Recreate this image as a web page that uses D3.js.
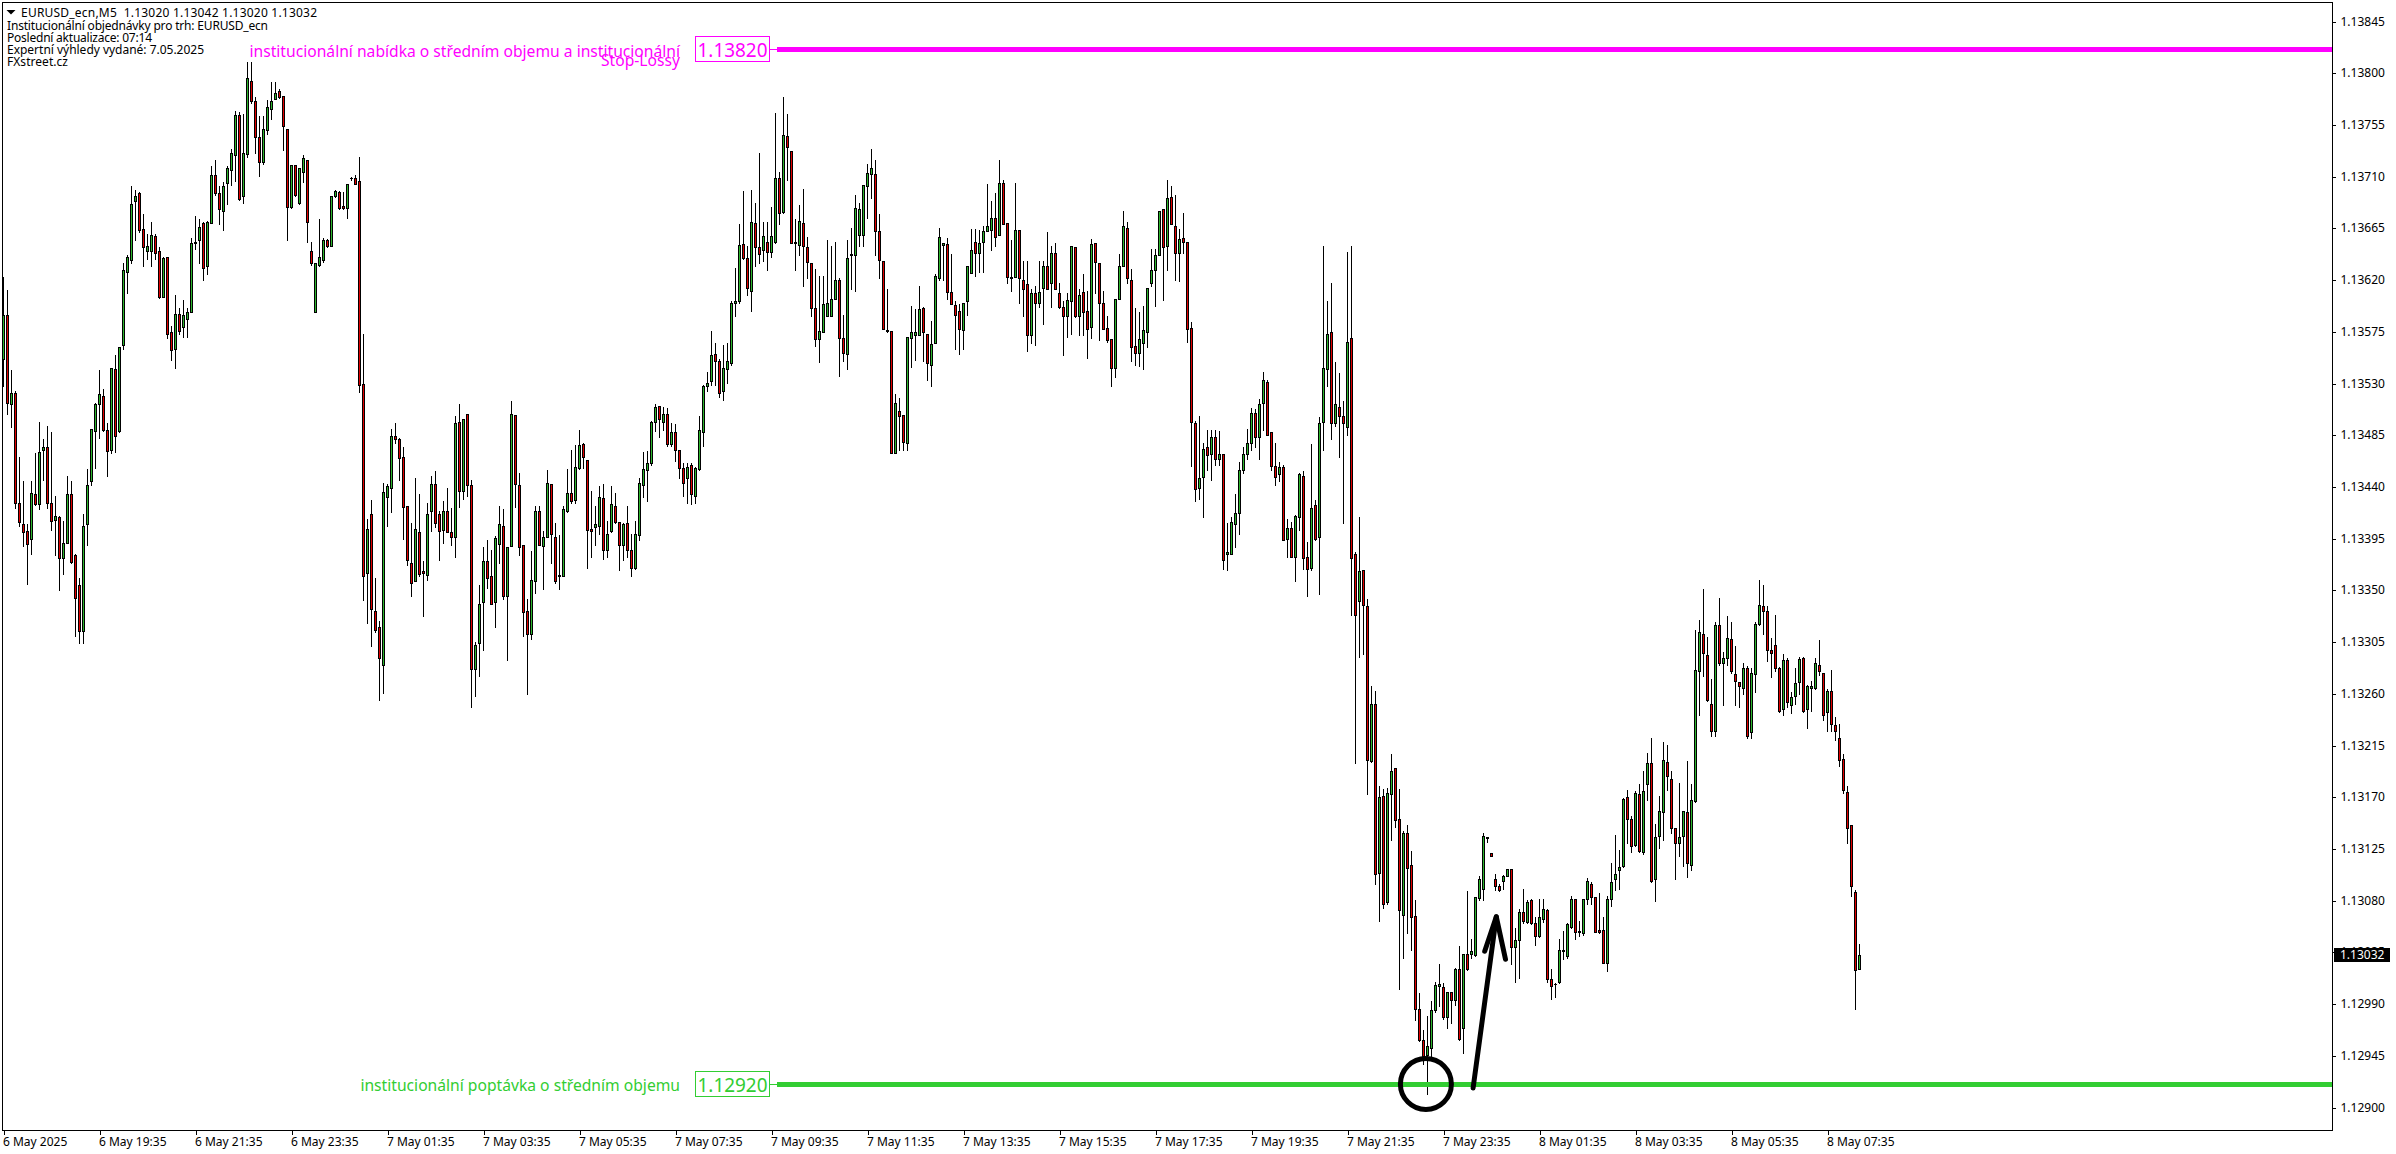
<!DOCTYPE html>
<html><head><meta charset="utf-8">
<script src="https://cdn.jsdelivr.net/npm/d3@7/dist/d3.min.js"></script>
<style>html,body{margin:0;padding:0;background:#fff;overflow:hidden}svg{display:block}text{font-family:"Noto Sans",sans-serif}</style>
</head><body><svg id="c" width="2396" height="1154"></svg>
<script>
// Prices in points above 1.12000
const BASE = 1.12, POINT = 0.00001;
const opens = [
1551,1589,1512,1521,1426,1407,1401,1394,1433,1425,
1472,1474,1426,1411,1413,1378,1391,1433,1380,1354,
1314,1407,1445,1488,1512,1519,1489,1472,1542,1488,
1563,1627,1637,1688,1695,1664,1645,1645,1658,1645,
1605,1640,1574,1560,1590,1579,1586,1592,1652,1654,
1669,1632,1669,1711,1695,1680,1704,1715,1728,1763,
1693,1729,1793,1775,1744,1722,1750,1768,1777,1784,
1780,1751,1683,1720,1687,1714,1724,1645,1592,1633,
1637,1654,1649,1693,1696,1684,1682,1708,1708,1706,
1529,1365,1416,1332,1318,1285,1431,1439,1484,1481,
1466,1423,1373,1358,1400,1366,1363,1419,1442,1416,
1402,1419,1400,1396,1496,1436,1503,1441,1281,1304,
1339,1375,1362,1339,1390,1406,1345,1388,1502,1441,
1389,1332,1312,1358,1419,1388,1396,1442,1396,1363,
1362,1419,1434,1428,1456,1477,1463,1403,1405,1406,
1430,1385,1401,1423,1409,1389,1408,1385,1369,1398,
1441,1454,1460,1496,1510,1496,1503,1477,1487,1472,
1456,1447,1459,1432,1455,1487,1527,1532,1555,1549,
1523,1542,1547,1600,1601,1651,1639,1610,1669,1648,
1646,1653,1644,1653,1708,1679,1745,1732,1653,1650,
1669,1648,1634,1595,1568,1574,1588,1588,1603,1620,
1569,1555,1641,1641,1659,1659,1701,1712,1712,1662,
1636,1576,1575,1469,1506,1502,1478,1569,1572,1572,
1595,1573,1546,1565,1621,1650,1651,1609,1598,1593,
1576,1601,1626,1653,1643,1653,1662,1663,1674,1659,
1704,1669,1622,1622,1663,1620,1616,1572,1608,1600,
1613,1632,1617,1643,1608,1596,1588,1601,1648,1588,
1609,1593,1579,1652,1634,1600,1578,1568,1543,1603,
1632,1665,1620,1562,1556,1565,1574,1617,1628,1641,
1681,1649,1692,1667,1643,1656,1653,1578,1495,1439,
1448,1474,1468,1483,1464,1468,1381,1381,1407,1417,
1454,1468,1478,1504,1483,1513,1531,1487,1458,1451,
1457,1394,1404,1379,1413,1449,1379,1369,1424,1396,
1496,1542,1574,1495,1509,1501,1492,1569,1381,1340,
1367,1336,1201,1251,1104,1171,1078,1172,1195,1151,
1067,1138,1111,1066,985,958,945,951,984,1005,
1004,978,1000,993,1020,969,1033,1033,1032,1082,
1090,1135,1121,1098,1092,1097,1101,1107,1039,1045,
1070,1061,1080,1060,1049,1064,1071,1011,1007,1009,
1036,1031,1057,1081,1052,1051,1081,1094,1083,1054,
1054,1025,1081,1098,1106,1110,1170,1151,1128,1172,
1122,1181,1199,1098,1136,1157,1200,1185,1143,1130,
1136,1157,1111,1166,1279,1312,1293,1251,1227,1319,
1286,1291,1307,1277,1270,1265,1282,1226,1277,1320,
1336,1332,1298,1302,1282,1246,1289,1250,1258,1270,
1291,1246,1265,1265,1285,1278,1244,1262,1232,1221,
1203,1174,1145,1087,1020];
const highs = [
1622,1611,1541,1523,1466,1445,1407,1445,1469,1496,
1481,1493,1487,1432,1414,1410,1449,1445,1381,1360,
1416,1455,1490,1513,1541,1525,1495,1543,1554,1561,
1634,1641,1701,1698,1696,1677,1660,1670,1660,1648,
1640,1640,1580,1607,1595,1602,1595,1656,1675,1673,
1670,1671,1719,1724,1701,1705,1719,1734,1767,1766,
1764,1809,1809,1779,1762,1762,1776,1792,1792,1786,
1780,1751,1720,1720,1717,1728,1724,1653,1634,1673,
1656,1655,1693,1698,1697,1696,1703,1709,1711,1727,
1573,1412,1428,1360,1323,1443,1442,1490,1495,1482,
1474,1423,1408,1447,1433,1375,1426,1449,1453,1419,
1427,1439,1421,1501,1512,1499,1503,1446,1305,1354,
1387,1393,1385,1397,1423,1420,1387,1514,1502,1452,
1389,1342,1384,1423,1423,1401,1454,1442,1408,1398,
1423,1455,1472,1476,1489,1478,1463,1436,1423,1440,
1442,1410,1440,1434,1409,1408,1423,1399,1410,1447,
1470,1471,1497,1512,1510,1509,1508,1495,1494,1472,
1460,1460,1460,1457,1501,1528,1540,1575,1565,1551,
1563,1565,1601,1630,1668,1697,1649,1698,1687,1730,
1670,1670,1683,1765,1714,1779,1764,1732,1673,1685,
1699,1657,1634,1629,1623,1623,1654,1649,1653,1621,
1589,1654,1665,1694,1687,1702,1721,1734,1724,1677,
1636,1612,1575,1520,1517,1502,1570,1597,1594,1614,
1596,1573,1584,1625,1665,1652,1656,1642,1601,1599,
1600,1632,1664,1664,1663,1667,1703,1688,1695,1724,
1707,1669,1654,1704,1663,1636,1636,1612,1614,1636,
1636,1661,1649,1652,1617,1601,1608,1649,1648,1612,
1625,1610,1655,1652,1634,1610,1588,1568,1603,1642,
1680,1670,1629,1595,1592,1597,1613,1647,1647,1680,
1681,1707,1701,1694,1664,1678,1653,1583,1497,1501,
1478,1489,1489,1489,1488,1468,1408,1413,1433,1461,
1474,1490,1508,1507,1516,1540,1533,1487,1478,1461,
1459,1412,1409,1415,1452,1453,1392,1477,1428,1500,
1649,1601,1617,1548,1539,1514,1644,1649,1383,1413,
1367,1342,1266,1262,1179,1177,1178,1207,1195,1177,
1140,1145,1123,1080,999,967,979,992,1009,1024,
1008,1000,1000,1021,1040,1033,1088,1046,1083,1101,
1138,1135,1121,1103,1094,1102,1107,1107,1056,1072,
1090,1080,1081,1065,1081,1081,1072,1020,1008,1046,
1053,1060,1084,1081,1062,1081,1099,1096,1083,1086,
1065,1084,1112,1137,1124,1169,1176,1153,1175,1181,
1192,1208,1221,1146,1171,1218,1215,1192,1143,1182,
1158,1201,1181,1315,1324,1351,1309,1272,1322,1343,
1296,1327,1322,1301,1270,1286,1284,1282,1322,1359,
1354,1336,1308,1328,1283,1294,1291,1261,1282,1292,
1292,1267,1271,1291,1306,1278,1264,1280,1239,1233,
1207,1179,1145,1089,1042];
const lows = [
1527,1503,1492,1421,1406,1388,1355,1381,1424,1420,
1446,1421,1402,1380,1350,1364,1391,1373,1310,1304,
1304,1389,1441,1456,1482,1488,1449,1469,1470,1487,
1560,1608,1634,1654,1661,1632,1638,1632,1638,1604,
1605,1569,1550,1543,1573,1570,1570,1592,1647,1634,
1620,1625,1669,1694,1668,1663,1686,1702,1706,1689,
1687,1727,1774,1730,1710,1721,1747,1760,1777,1778,
1733,1654,1682,1693,1686,1705,1653,1633,1592,1632,
1635,1648,1649,1692,1681,1681,1674,1707,1703,1522,
1341,1321,1301,1313,1254,1260,1406,1418,1478,1446,
1394,1372,1345,1358,1362,1327,1359,1401,1405,1376,
1391,1400,1389,1379,1422,1429,1432,1248,1258,1275,
1298,1352,1338,1318,1373,1342,1289,1388,1422,1380,
1310,1259,1307,1347,1389,1351,1396,1373,1356,1351,
1362,1418,1426,1426,1455,1456,1369,1379,1389,1399,
1377,1379,1400,1408,1367,1376,1379,1362,1368,1393,
1431,1427,1459,1488,1483,1489,1475,1475,1462,1447,
1432,1426,1425,1426,1454,1475,1523,1528,1528,1518,
1515,1530,1546,1588,1600,1638,1607,1593,1632,1634,
1636,1628,1640,1652,1668,1678,1707,1652,1628,1641,
1614,1621,1588,1562,1548,1574,1588,1588,1603,1536,
1549,1542,1612,1610,1649,1649,1674,1691,1641,1621,
1577,1574,1469,1469,1472,1472,1472,1544,1550,1572,
1549,1533,1527,1565,1620,1620,1603,1599,1560,1555,
1560,1589,1626,1623,1627,1627,1662,1646,1649,1659,
1668,1617,1610,1622,1600,1588,1558,1565,1563,1596,
1581,1612,1596,1612,1595,1554,1570,1573,1587,1572,
1572,1552,1569,1608,1567,1577,1566,1527,1535,1603,
1632,1617,1549,1546,1545,1542,1561,1614,1597,1641,
1602,1628,1668,1620,1619,1643,1566,1458,1427,1429,
1413,1454,1446,1459,1459,1368,1367,1381,1387,1399,
1452,1464,1472,1474,1464,1489,1485,1454,1441,1445,
1393,1379,1379,1358,1402,1368,1345,1367,1393,1346,
1472,1527,1481,1493,1466,1408,1485,1328,1199,1292,
1294,1172,1200,1094,1062,1073,1077,1132,1144,1003,
1030,1051,1037,976,957,937,911,943,983,988,
977,969,973,989,958,947,1019,1030,1031,1080,
1080,1131,1118,1089,1088,1090,1101,1024,1009,1012,
1060,1060,1059,1041,1048,1061,1009,994,996,1008,
1029,1030,1056,1046,1049,1050,1077,1077,1052,1051,
1025,1018,1075,1089,1090,1109,1130,1122,1127,1122,
1120,1167,1096,1079,1125,1132,1176,1138,1098,1118,
1110,1100,1106,1165,1241,1275,1253,1223,1223,1285,
1250,1285,1278,1250,1248,1259,1221,1221,1261,1319,
1312,1288,1274,1279,1244,1241,1248,1243,1251,1259,
1244,1230,1245,1264,1276,1237,1227,1227,1219,1197,
1173,1130,1084,985,1020];
const closes = [
1589,1513,1521,1426,1409,1400,1390,1434,1425,1470,
1474,1426,1410,1414,1378,1391,1433,1374,1343,1314,
1406,1441,1490,1512,1520,1489,1471,1543,1484,1561,
1628,1640,1686,1693,1663,1648,1649,1659,1643,1605,
1639,1573,1559,1590,1575,1589,1592,1652,1653,1666,
1630,1670,1711,1695,1681,1701,1717,1730,1763,1690,
1730,1795,1775,1744,1722,1751,1770,1775,1782,1779,
1754,1683,1720,1694,1717,1726,1670,1634,1634,1640,
1654,1649,1693,1697,1682,1682,1703,1708,1703,1528,
1362,1403,1333,1315,1291,1435,1440,1484,1481,1465,
1422,1376,1356,1403,1364,1365,1416,1442,1408,1401,
1419,1400,1396,1495,1436,1499,1441,1281,1302,1338,
1375,1360,1338,1395,1407,1345,1387,1503,1442,1387,
1331,1312,1359,1419,1389,1396,1443,1399,1358,1362,
1420,1434,1427,1457,1476,1466,1402,1401,1407,1431,
1385,1399,1425,1409,1389,1407,1385,1369,1399,1443,
1455,1460,1496,1509,1499,1503,1477,1487,1472,1456,
1443,1457,1433,1456,1489,1527,1530,1554,1549,1521,
1543,1549,1600,1601,1650,1639,1613,1670,1648,1642,
1658,1644,1658,1708,1678,1746,1735,1652,1652,1671,
1649,1635,1595,1568,1575,1599,1600,1603,1620,1569,
1556,1639,1642,1682,1681,1702,1713,1717,1662,1637,
1577,1575,1469,1513,1501,1479,1570,1574,1574,1594,
1574,1547,1564,1623,1657,1652,1609,1599,1589,1577,
1600,1632,1646,1643,1652,1662,1667,1674,1657,1704,
1668,1622,1621,1663,1621,1612,1572,1608,1600,1609,
1632,1612,1643,1612,1596,1588,1602,1649,1588,1607,
1592,1577,1651,1635,1600,1577,1567,1543,1603,1632,
1667,1621,1561,1556,1568,1576,1613,1628,1641,1680,
1648,1691,1668,1643,1655,1653,1577,1496,1438,1447,
1473,1467,1483,1464,1468,1376,1383,1409,1417,1454,
1468,1478,1504,1483,1512,1533,1485,1458,1448,1457,
1393,1404,1379,1414,1451,1378,1368,1421,1394,1495,
1543,1573,1495,1512,1501,1495,1566,1378,1328,1366,
1337,1202,1251,1103,1170,1077,1173,1192,1150,1071,
1138,1108,1065,985,958,944,953,984,1006,1007,
978,1000,993,1020,959,1033,1020,1036,1083,1098,
1136,1134,1118,1092,1089,1101,1107,1039,1045,1070,
1062,1078,1060,1049,1065,1072,1011,1005,1007,1037,
1037,1059,1081,1052,1053,1081,1097,1083,1052,1052,
1025,1081,1096,1103,1109,1168,1151,1127,1173,1123,
1175,1199,1097,1135,1158,1202,1188,1143,1130,1135,
1158,1112,1167,1280,1313,1295,1254,1227,1319,1286,
1291,1308,1279,1271,1266,1282,1223,1278,1320,1337,
1332,1298,1295,1282,1245,1289,1252,1257,1269,1290,
1245,1266,1266,1286,1279,1241,1262,1233,1227,1202,
1176,1143,1092,1019,1032];

const priceTicks = [1.13845,1.138,1.13755,1.1371,1.13665,1.1362,1.13575,1.1353,1.13485,1.1344,1.13395,1.1335,1.13305,1.1326,1.13215,1.1317,1.13125,1.1308,1.13035,1.1299,1.12945,1.129];
const timeTickBars = [0,24,48,72,96,120,144,168,192,216,240,264,288,312,336,360,384,408,432,456];
const timeLabels = ["6 May 2025","6 May 19:35","6 May 21:35","6 May 23:35","7 May 01:35","7 May 03:35","7 May 05:35","7 May 07:35","7 May 09:35","7 May 11:35","7 May 13:35","7 May 15:35","7 May 17:35","7 May 19:35","7 May 21:35","7 May 23:35","8 May 01:35","8 May 03:35","8 May 05:35","8 May 07:35"];
const headerLines = ["Institucionální objednávky pro trh: EURUSD_ecn","Poslední aktualizace: 07:14","Expertní výhledy vydané: 7.05.2025","FXstreet.cz"];
const headerWidths = [261,145,197,61];
const symbolLine = "EURUSD_ecn,M5  1.13020 1.13042 1.13020 1.13032";
const lastPrice = 1.13032;
const supply = {price:1.1382, color:"#ff00ff", lines:["institucionální nabídka o středním objemu a institucionální","Stop-Lossy"]};
const demand = {price:1.1292, color:"#32cd32", lines:["institucionální poptávka o středním objemu"]};
// annotation, in bar index / points
const circleAt = {bar:355.6, pts:920};
const arrowPts = [[367.4,917],[373.2,1066]];
const arrowHead = [[370.3,1036],[373.2,1066],[375.5,1029]];

const svg = d3.select("#c").attr("shape-rendering","crispEdges");
const x = d3.scaleLinear().domain([0,464]).range([3.5,1859.5]);
const y = d3.scaleLinear().domain([1.129,1.13845]).range([1107.5,21.5]);
const yP = p => y(BASE + p*POINT);
const PLOT = {l:2.5,t:2.5,r:2332.5,b:1130.5};
const UP="#2cb52c", DOWN="#e00000", INK="#000";

const bars = opens.map((o,i)=>({i,o,h:highs[i],l:lows[i],c:closes[i]}));
const g = svg.append("g");
const snap = v => Math.floor(v)+0.5;
g.selectAll("line.wick").data(bars).join("line").attr("class","wick")
 .attr("x1",d=>x(d.i)).attr("x2",d=>x(d.i))
 .attr("y1",d=>snap(yP(d.h))-0.5).attr("y2",d=>snap(yP(d.l))+0.5)
 .attr("stroke",INK).attr("stroke-width",1);
const bt=d=>Math.floor(yP(Math.max(d.o,d.c))), bb=d=>Math.floor(yP(Math.min(d.o,d.c)));
g.selectAll("rect.body").data(bars).join("rect").attr("class","body")
 .attr("x",d=>x(d.i)-1.5).attr("width",3)
 .attr("y",bt).attr("height",d=>Math.max(bb(d)-bt(d)+1,1)).attr("fill",INK);
g.selectAll("rect.fill").data(bars.filter(d=>bb(d)-bt(d)>=2)).join("rect").attr("class","fill")
 .attr("x",d=>x(d.i)-0.5).attr("width",1)
 .attr("y",d=>bt(d)+1).attr("height",d=>bb(d)-bt(d)-1)
 .attr("fill",d=>d.c>=d.o?UP:DOWN);

// level lines with boxed prices
const BOX={x:695.5,w:74,h:25};
[supply,demand].forEach(L=>{
  const yy=y(L.price), ly=Math.round(yy);
  svg.append("line").attr("x1",BOX.x+BOX.w).attr("x2",778).attr("y1",ly-0.5).attr("y2",ly-0.5).attr("stroke",L.color);
  svg.append("rect").attr("x",777).attr("y",ly-3).attr("width",PLOT.r-777).attr("height",5).attr("fill",L.color);
  svg.append("rect").attr("x",BOX.x).attr("y",ly-13.5).attr("width",BOX.w).attr("height",BOX.h).attr("fill","#fff").attr("stroke",L.color);
  svg.append("text").attr("x",BOX.x+BOX.w/2).attr("y",ly+7).attr("text-anchor","middle").attr("font-size",20).attr("fill",L.color).attr("textLength",70).attr("lengthAdjust","spacingAndGlyphs").text(L.price.toFixed(5));
});
svg.append("text").attr("x",680).attr("y",57).attr("text-anchor","end").attr("font-size",15.65).attr("fill",supply.color).text(supply.lines[0]);
svg.append("text").attr("x",680).attr("y",66).attr("text-anchor","end").attr("font-size",15.65).attr("fill",supply.color).text(supply.lines[1]);
svg.append("text").attr("x",680).attr("y",1091).attr("text-anchor","end").attr("font-size",15.65).attr("fill",demand.color).text(demand.lines[0]);

// frame + axes
svg.append("path").attr("fill","none").attr("stroke",INK)
 .attr("d",`M${PLOT.l},${PLOT.b}V${PLOT.t}H${PLOT.r}V${PLOT.b}H${PLOT.l}`);
const ya=d3.axisRight(y).tickValues(priceTicks).tickFormat(d3.format(".5f")).tickSize(3).tickPadding(5);
const ga=svg.append("g").attr("transform",`translate(${PLOT.r},0)`).call(ya);
ga.select(".domain").remove();
ga.selectAll("text").attr("font-size",12).attr("fill",INK).attr("font-family",'"Noto Sans",sans-serif').attr("dy",".3em");
const xa=d3.axisBottom(x).tickValues(timeTickBars).tickFormat((d,i)=>timeLabels[i]).tickSize(4).tickPadding(3);
const gb=svg.append("g").attr("transform",`translate(0,${PLOT.b})`).call(xa);
gb.select(".domain").remove();
gb.selectAll("text").attr("font-size",12).attr("fill",INK).attr("font-family",'"Noto Sans",sans-serif').attr("text-anchor","start").attr("dx",-1);

// current price tag
const lp=y(lastPrice);
svg.append("rect").attr("x",2334).attr("y",Math.round(lp)-8).attr("width",56).attr("height",14).attr("fill",INK);
svg.append("text").attr("x",2340).attr("y",lp+3.5).attr("font-size",12).attr("fill","#fff").text(lastPrice.toFixed(5));

// header
svg.append("path").attr("d",d3.line()([[6.5,10],[15.5,10],[11,14.5]])+"Z").attr("fill",INK).attr("shape-rendering","auto");
svg.append("text").attr("x",21).attr("y",17).attr("font-size",12).attr("fill",INK).style("white-space","pre").attr("textLength",296).attr("lengthAdjust","spacing").text(symbolLine);
headerLines.forEach((t,i)=>svg.append("text").attr("x",7).attr("y",30+i*12).attr("font-size",12).attr("fill",INK).attr("textLength",headerWidths[i]).attr("lengthAdjust","spacing").text(t));

// annotation
const ann=svg.append("g").attr("shape-rendering","auto").attr("fill","none").attr("stroke",INK).attr("stroke-width",5).attr("stroke-linecap","round").attr("stroke-linejoin","round");
ann.append("circle").attr("cx",x(circleAt.bar)).attr("cy",yP(circleAt.pts)-0.5).attr("r",25.5);
const ln=d3.line().x(d=>x(d[0])).y(d=>yP(d[1]));
ann.append("path").attr("d",ln(arrowPts));
ann.append("path").attr("d",ln(arrowHead));
</script></body></html>
